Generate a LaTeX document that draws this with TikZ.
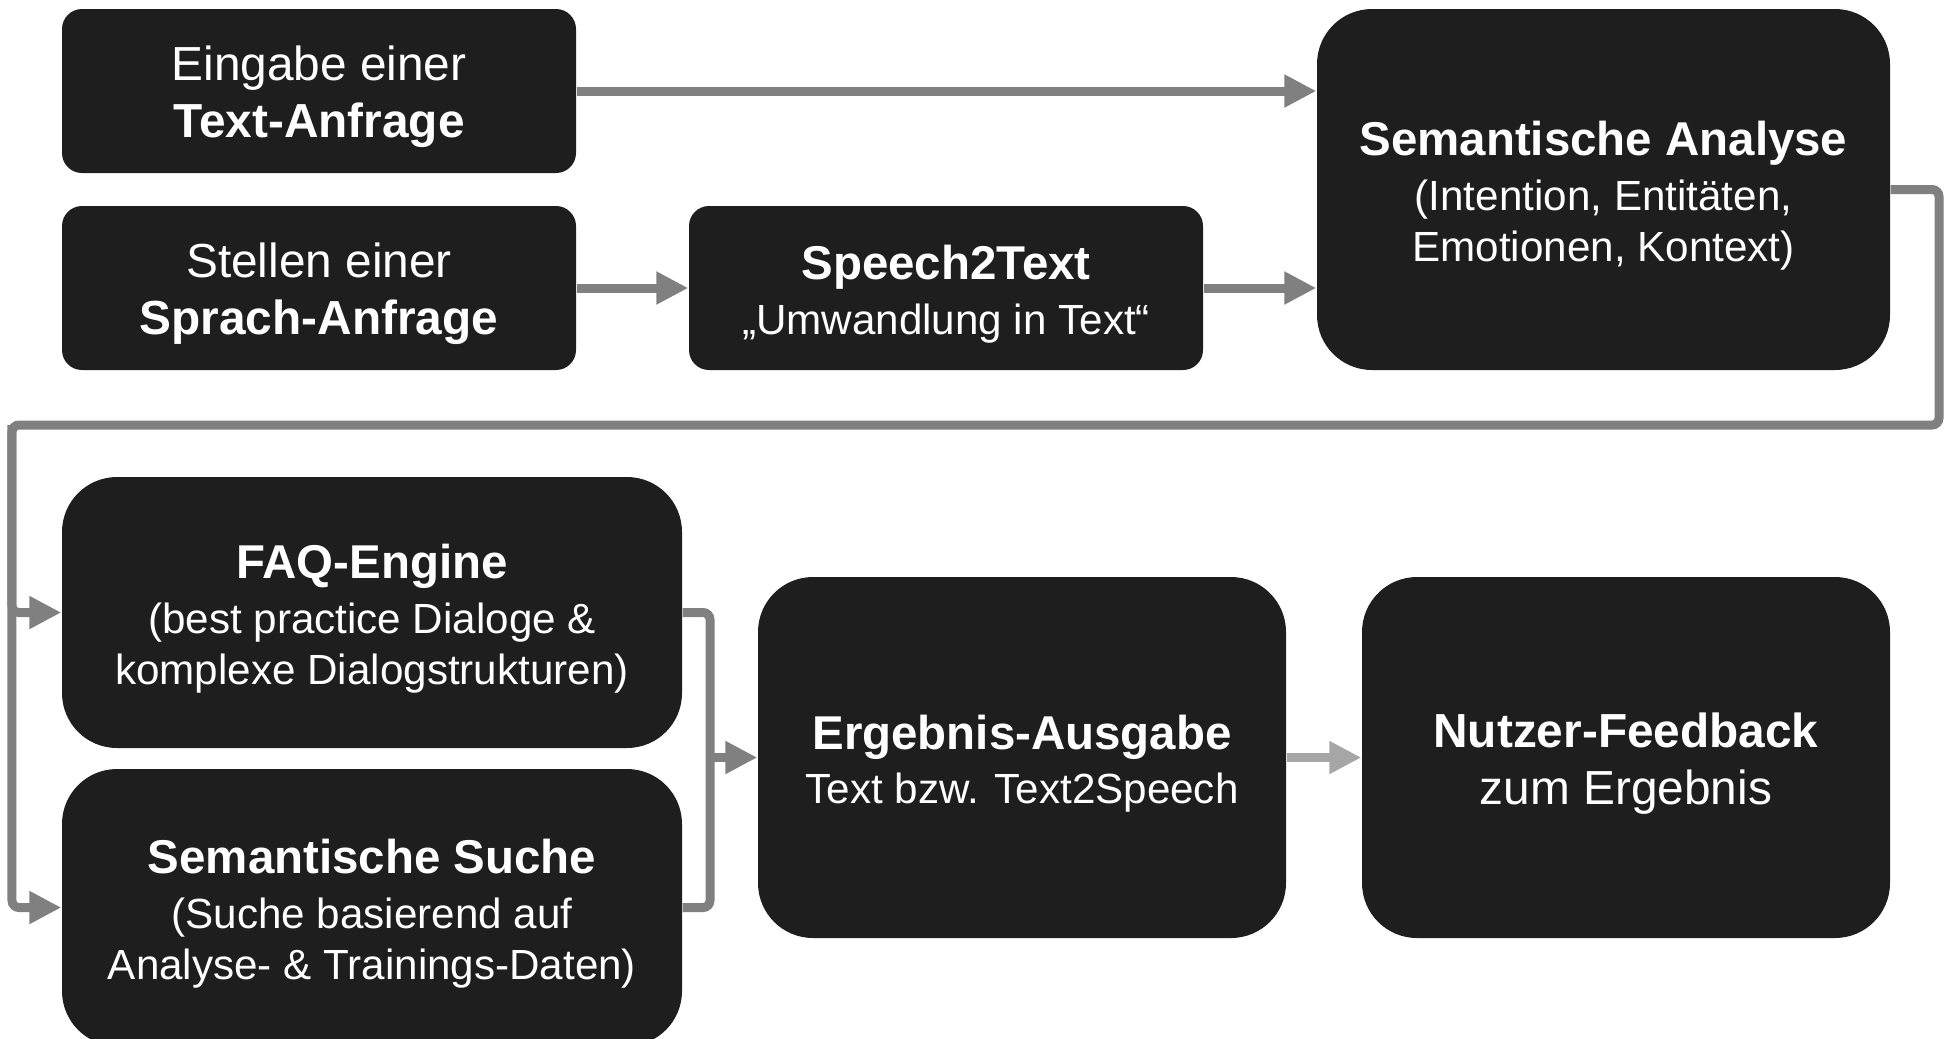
\documentclass[tikz,border=0pt]{standalone}
\usepackage{fontspec}
\setmainfont{Liberation Sans}
\usetikzlibrary{arrows.meta}
\definecolor{boxgray}{HTML}{1E1E1E}
\definecolor{arrowgray}{HTML}{808080}
\definecolor{lightgray}{HTML}{A6A6A6}
\newcommand{\boxtop}{\rule{0pt}{13.3pt}}
\newcommand{\boxhead}[1]{{\fontsize{13.5}{16}\selectfont\bfseries\boxtop #1}}
\tikzset{
  box/.style={fill=boxgray, text=white, rounded corners=0.2cm, inner sep=0pt, align=center,
    font=\fontsize{12}{14.5}\selectfont},
  bigbox/.style={box, rounded corners=0.55cm},
  bigfont/.style={font=\fontsize{13.6}{16.3}\selectfont},
  link/.style={draw=arrowgray, line width=0.09cm, rounded corners=2pt},
  flow/.style={link, -{Triangle[length=0.32cm,width=0.31cm]}},
}
\begin{document}
\begin{tikzpicture}
\useasboundingbox (0,0) rectangle (19.54,-10.38);
% input
\node[box,bigfont,minimum width=5.14cm,minimum height=1.64cm] (eingabe) at (3.19,-0.91)
  {\boxtop Eingabe einer\\\textbf{Text-Anfrage}};
\node[box,bigfont,minimum width=5.14cm,minimum height=1.64cm] (stellen) at (3.19,-2.88)
  {\boxtop Stellen einer\\\textbf{Sprach-Anfrage}};
\node[box,minimum width=5.14cm,minimum height=1.64cm] (speech) at (9.46,-2.88)
  {\boxhead{Speech2Text}\\[1pt]„Umwandlung in Text“};
\node[bigbox,minimum width=5.73cm,minimum height=3.61cm] (analyse) at (16.035,-1.895)
  {\boxhead{Semantische Analyse}\\[1pt](Intention, Entitäten,\\Emotionen, Kontext)};
% processing
\node[bigbox,minimum width=6.20cm,minimum height=2.71cm] (faq) at (3.72,-6.125)
  {\boxhead{FAQ-Engine}\\[1pt](best practice Dialoge \&\\komplexe Dialogstrukturen)};
\node[bigbox,minimum width=6.20cm,minimum height=2.77cm] (suche) at (3.72,-9.075)
  {\boxhead{Semantische Suche}\\[1pt](Suche basierend auf\\Analyse- \& Trainings-Daten)};
\node[bigbox,minimum width=5.28cm,minimum height=3.61cm] (ergebnis) at (10.22,-7.575)
  {\boxhead{Ergebnis-Ausgabe}\\[1pt]Text bzw. Text2Speech};
\node[bigbox,bigfont,minimum width=5.28cm,minimum height=3.61cm] (nutzer) at (16.26,-7.575)
  {\boxtop\textbf{Nutzer-Feedback}\\zum Ergebnis};
% connectors
\coordinate (loopR) at (19.39,-4.25);
\coordinate (loopL) at (0.12,-4.25);
\coordinate (merge) at (7.10,-7.575);
\draw[flow] (eingabe.east) -- (eingabe.east -| analyse.west);
\draw[flow] (stellen) -- (speech);
\draw[flow] (speech.east) -- (speech.east -| analyse.west);
\draw[flow] (analyse.east) -| (loopR) -- (loopL) |- (faq.west);
\draw[flow] (loopL) |- (suche.west);
\draw[link] (faq.east) -| (merge) |- (suche.east);
\draw[flow] (merge) -- (ergebnis);
\draw[flow,draw=lightgray] (ergebnis) -- (nutzer);
\end{tikzpicture}
\end{document}
